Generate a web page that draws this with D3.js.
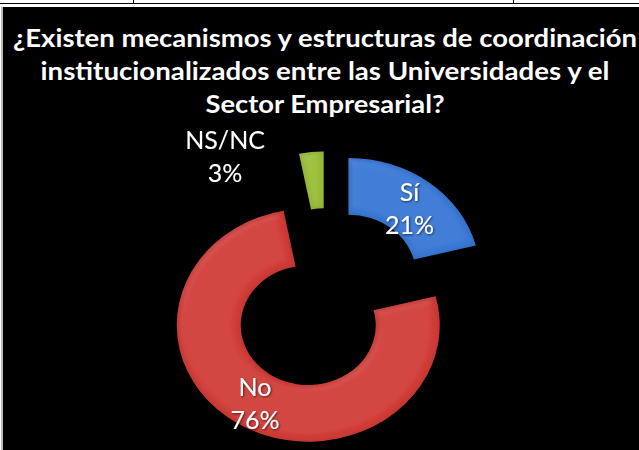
<!DOCTYPE html>
<html>
<head>
<meta charset="utf-8">
<script src="https://cdn.jsdelivr.net/npm/d3@7"></script>
<style>
  html, body { margin: 0; padding: 0; background: #ffffff; }
  svg { display: block; }
</style>
</head>
<body>
<script>
// ---- data ----
const categories = ["Sí", "No", "NS/NC"];
const values = [21, 76, 3];
const percentLabels = ["21%", "76%", "3%"];
const titleLines = [
  "¿Existen mecanismos y estructuras de coordinación",
  "institucionalizados entre las Universidades y el",
  "Sector Empresarial?"
];
const colors = ["#3a7ad6", "#d13d38", "#9cc03a"];

// ---- layout ----
const W = 639, H = 450;
const cx = 327, cy = 299;
const rIn = 67.5, rOut = 131.5, yScale = 0.886, explode = 35;

const svg = d3.select("body").append("svg").attr("width", W).attr("height", H);

// frame
svg.append("rect").attr("x", 0).attr("y", 0).attr("width", W).attr("height", H).attr("fill", "#fff");
svg.append("line").attr("x1", 0).attr("x2", W).attr("y1", 3.5).attr("y2", 3.5).attr("stroke", "#000").attr("stroke-width", 1.2);
[133.5, 513.5].forEach(x => svg.append("line").attr("x1", x).attr("x2", x).attr("y1", 0).attr("y2", 4).attr("stroke", "#000"));
svg.append("rect").attr("x", 3).attr("y", 7).attr("width", W - 3).attr("height", H - 7).attr("fill", "#000");
svg.append("line").attr("x1", 2).attr("x2", 2).attr("y1", 7).attr("y2", H).attr("stroke", "#777").attr("stroke-width", 1);

// bevel filter: soft highlight plus darker rim
const defs = svg.append("defs");
const f = defs.append("filter").attr("id", "bevel").attr("x", "-10%").attr("y", "-10%").attr("width", "120%").attr("height", "120%");
f.append("feGaussianBlur").attr("in", "SourceAlpha").attr("stdDeviation", 4).attr("result", "blur");
const spec = f.append("feSpecularLighting").attr("in", "blur").attr("surfaceScale", 3)
  .attr("specularConstant", 0.4).attr("specularExponent", 22).attr("lighting-color", "#ffffff").attr("result", "spec");
spec.append("feDistantLight").attr("azimuth", 235).attr("elevation", 55);
f.append("feComposite").attr("in", "spec").attr("in2", "SourceAlpha").attr("operator", "in").attr("result", "specOut");
f.append("feComponentTransfer").attr("in", "blur").attr("result", "inv")
  .append("feFuncA").attr("type", "linear").attr("slope", -1).attr("intercept", 1);
f.append("feComposite").attr("in", "inv").attr("in2", "SourceAlpha").attr("operator", "in").attr("result", "rim");
f.append("feFlood").attr("flood-color", "#000").attr("flood-opacity", 0.3).attr("result", "dark");
f.append("feComposite").attr("in", "dark").attr("in2", "rim").attr("operator", "in").attr("result", "rimDark");
f.append("feComposite").attr("in", "SourceGraphic").attr("in2", "specOut").attr("operator", "arithmetic")
  .attr("k1", 0).attr("k2", 1).attr("k3", 0.1).attr("k4", 0).attr("result", "lit");
const merge = f.append("feMerge");
merge.append("feMergeNode").attr("in", "lit");
merge.append("feMergeNode").attr("in", "rimDark");

const textShadow = defs.append("filter").attr("id", "tshadow").attr("x", "-20%").attr("y", "-20%").attr("width", "140%").attr("height", "140%");
textShadow.append("feDropShadow").attr("dx", 1).attr("dy", 1).attr("stdDeviation", 1).attr("flood-color", "#000").attr("flood-opacity", 0.6);

// title
const title = svg.append("g").attr("font-family", "Lato, 'Open Sans', sans-serif").attr("font-weight", "bold")
  .attr("font-size", 24).attr("fill", "#fff").attr("text-anchor", "middle");
const titleLens = [624, 569, 239];
const titleBase = [47, 80, 113];
titleLines.forEach((t, i) => {
  title.append("text").attr("x", 325).attr("y", titleBase[i]).attr("textLength", titleLens[i])
    .attr("lengthAdjust", "spacingAndGlyphs").text(t);
});

// donut
const pie = d3.pie().sort(null).value(d => d);
const arcs = pie(values);
const arc = d3.arc().innerRadius(rIn).outerRadius(rOut);

const g = svg.append("g").attr("transform", `translate(${cx},${cy}) scale(1,${yScale})`);
const offset = d => {
  const a = (d.startAngle + d.endAngle) / 2;
  return [Math.sin(a) * explode, -Math.cos(a) * explode];
};
g.selectAll("path").data(arcs).join("path")
  .attr("d", arc)
  .attr("transform", d => { const o = offset(d); return `translate(${o[0]},${o[1]})`; })
  .attr("fill", (d, i) => colors[i])
  .attr("filter", "url(#bevel)");

// labels
const lab = svg.append("g").attr("font-family", "Lato, 'Open Sans', sans-serif").attr("font-size", 25)
  .attr("fill", "#fff").attr("text-anchor", "middle").attr("filter", "url(#tshadow)");
const lineGap = 33;
arcs.forEach((d, i) => {
  const o = offset(d);
  let x, y;
  if (values[i] >= 10) {
    const c = arc.centroid(d);
    x = cx + c[0] + o[0];
    y = cy + (c[1] + o[1]) * yScale + 3;
  } else {
    const a = d.startAngle;
    x = cx + o[0] + Math.sin(a) * rOut - 74;
    y = cy + (o[1] - Math.cos(a) * rOut) * yScale + 2;
  }
  lab.append("text").attr("x", x).attr("y", y - lineGap / 2).attr("dominant-baseline", "central").text(categories[i]);
  lab.append("text").attr("x", x).attr("y", y + lineGap / 2).attr("dominant-baseline", "central").text(percentLabels[i]);
});
</script>
</body>
</html>
